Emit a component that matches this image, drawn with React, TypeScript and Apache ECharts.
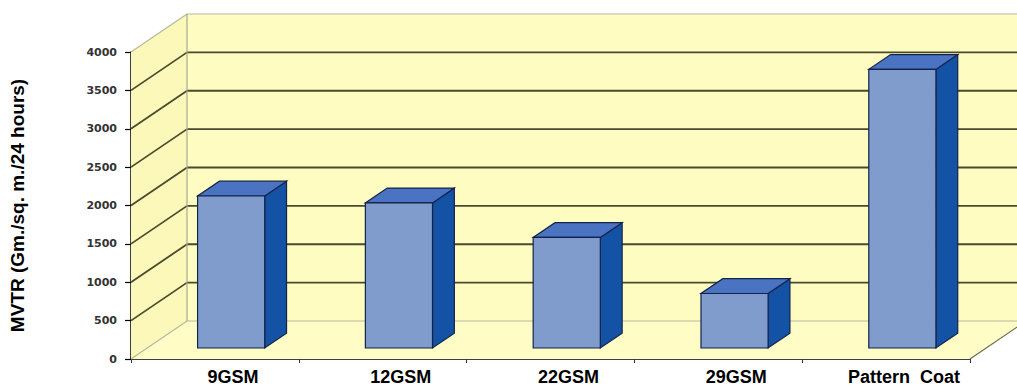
import React, { useEffect, useRef } from "react";
import * as echarts from "echarts";

const categories = ["9GSM", "12GSM", "22GSM", "29GSM", "Pattern  Coat"];
const mvtrValues = [1980, 1890, 1440, 710, 3630];
const yTicks = [0, 500, 1000, 1500, 2000, 2500, 3000, 3500, 4000];
const yTitle = "MVTR (Gm./sq. m./24 hours)";

const DX = 56;
const DY = -38;
const BAR_FRONT = 0.29;
const BAR_DEPTH = 0.39;

export default function App() {
  const ref = useRef<HTMLDivElement>(null);
  useEffect(() => {
    if (!ref.current) return;
    const chart = echarts.init(ref.current, null, { renderer: "svg" });

    const wallsRender = (params: any, api: any) => {
      const cs = params.coordSys;
      const L = cs.x;
      const R = cs.x + cs.width;
      const T = cs.y;
      const B = cs.y + cs.height;
      const children: any[] = [];
      children.push({
        type: "polygon",
        shape: { points: [[L + DX, T + DY], [R + DX, T + DY], [R + DX, B + DY], [L + DX, B + DY]] },
        style: { fill: "#FFFCC2" },
      });
      children.push({
        type: "polygon",
        shape: { points: [[L, T], [L + DX, T + DY], [L + DX, B + DY], [L, B]] },
        style: { fill: "#FCF8B9" },
      });
      children.push({
        type: "polygon",
        shape: { points: [[L, B], [R, B], [R + DX, B + DY], [L + DX, B + DY]] },
        style: { fill: "#FFFCC6" },
      });
      yTicks.forEach((t, k) => {
        const y = api.coord([0, t])[1];
        const edge = k === 0 || k === yTicks.length - 1;
        const color = edge ? "#B8B8A0" : "#4A4A2E";
        const lw = edge ? 1.2 : 1.8;
        children.push({
          type: "line",
          shape: { x1: L + DX, y1: y + DY, x2: R + DX, y2: y + DY },
          style: { stroke: color, lineWidth: lw },
        });
        children.push({
          type: "line",
          shape: { x1: L, y1: y, x2: L + DX, y2: y + DY },
          style: { stroke: color, lineWidth: lw },
        });
      });
      children.push({
        type: "line",
        shape: { x1: L + DX, y1: T + DY, x2: L + DX, y2: B + DY },
        style: { stroke: "#A8A890", lineWidth: 1.2 },
      });
      children.push({
        type: "line",
        shape: { x1: R, y1: B, x2: R + DX, y2: B + DY },
        style: { stroke: "#6A6A48", lineWidth: 1.2 },
      });
      return { type: "group", children };
    };

    const barsRender = (params: any, api: any) => {
      const i = api.value(0);
      const v = api.value(1);
      const base = api.coord([i, 0]);
      const top = api.coord([i, v]);
      const w = api.size([1, 0])[0] * 0.4;
      const fx = DX * BAR_FRONT;
      const fy = DY * BAR_FRONT;
      const ddx = DX * BAR_DEPTH;
      const ddy = DY * BAR_DEPTH;
      const x0 = base[0] - w / 2 + fx;
      const x1 = x0 + w;
      const yb = base[1] + fy;
      const yt = top[1] + fy;
      const stroke = "#14234A";
      return {
        type: "group",
        children: [
          {
            type: "polygon",
            shape: { points: [[x1, yt], [x1 + ddx, yt + ddy], [x1 + ddx, yb + ddy], [x1, yb]] },
            style: { fill: "#1452A6", stroke, lineWidth: 1.2 },
          },
          {
            type: "polygon",
            shape: { points: [[x0, yt], [x1, yt], [x1 + ddx, yt + ddy], [x0 + ddx, yt + ddy]] },
            style: { fill: "#4A74C2", stroke, lineWidth: 1.2 },
          },
          {
            type: "rect",
            shape: { x: x0, y: yt, width: w, height: yb - yt },
            style: { fill: "#7F9CCD", stroke, lineWidth: 1.2 },
          },
        ],
      };
    };

    chart.setOption({
      animation: false,
      backgroundColor: "#FFFFFF",
      grid: { left: 127, right: 47, top: 52, bottom: 31 },
      xAxis: {
        type: "category",
        data: categories,
        axisLine: { show: true, lineStyle: { color: "#000000", width: 1.5 } },
        axisTick: { show: true, length: 4, lineStyle: { color: "#333333" } },
        axisLabel: {
          margin: 9,
          padding: [0, 0, 0, 36],
          fontFamily: "Liberation Sans, Arial, sans-serif",
          fontWeight: "bold",
          fontSize: 18,
          color: "#000000",
        },
        splitLine: { show: false },
      },
      yAxis: {
        type: "value",
        min: 0,
        max: 4000,
        interval: 500,
        name: yTitle,
        nameLocation: "middle",
        nameRotate: 90,
        nameGap: 104,
        nameTextStyle: {
          fontFamily: "Liberation Sans, Arial, sans-serif",
          fontWeight: "bold",
          fontSize: 19,
          color: "#000000",
        },
        axisLine: { show: true, lineStyle: { color: "#000000", width: 1.5 } },
        axisTick: { show: true, length: 6, lineStyle: { color: "#000000", width: 1.2 } },
        axisLabel: {
          margin: 14,
          formatter: (v: number) => String(v),
          fontFamily: "DejaVu Sans, sans-serif",
          fontWeight: "bold",
          fontSize: 11,
          color: "#333333",
        },
        splitLine: { show: false },
      },
      series: [
        {
          type: "custom",
          name: "walls",
          z: 1,
          silent: true,
          clip: false,
          renderItem: wallsRender,
          data: [[0, 0]],
        },
        {
          type: "custom",
          name: "MVTR",
          z: 3,
          clip: false,
          renderItem: barsRender,
          data: mvtrValues.map((v, i) => [i, v]),
        },
      ],
    });
    return () => chart.dispose();
  }, []);
  return <div ref={ref} style={{ width: 1017, height: 390, position: "fixed", left: 0, top: 0 }} />;
}
